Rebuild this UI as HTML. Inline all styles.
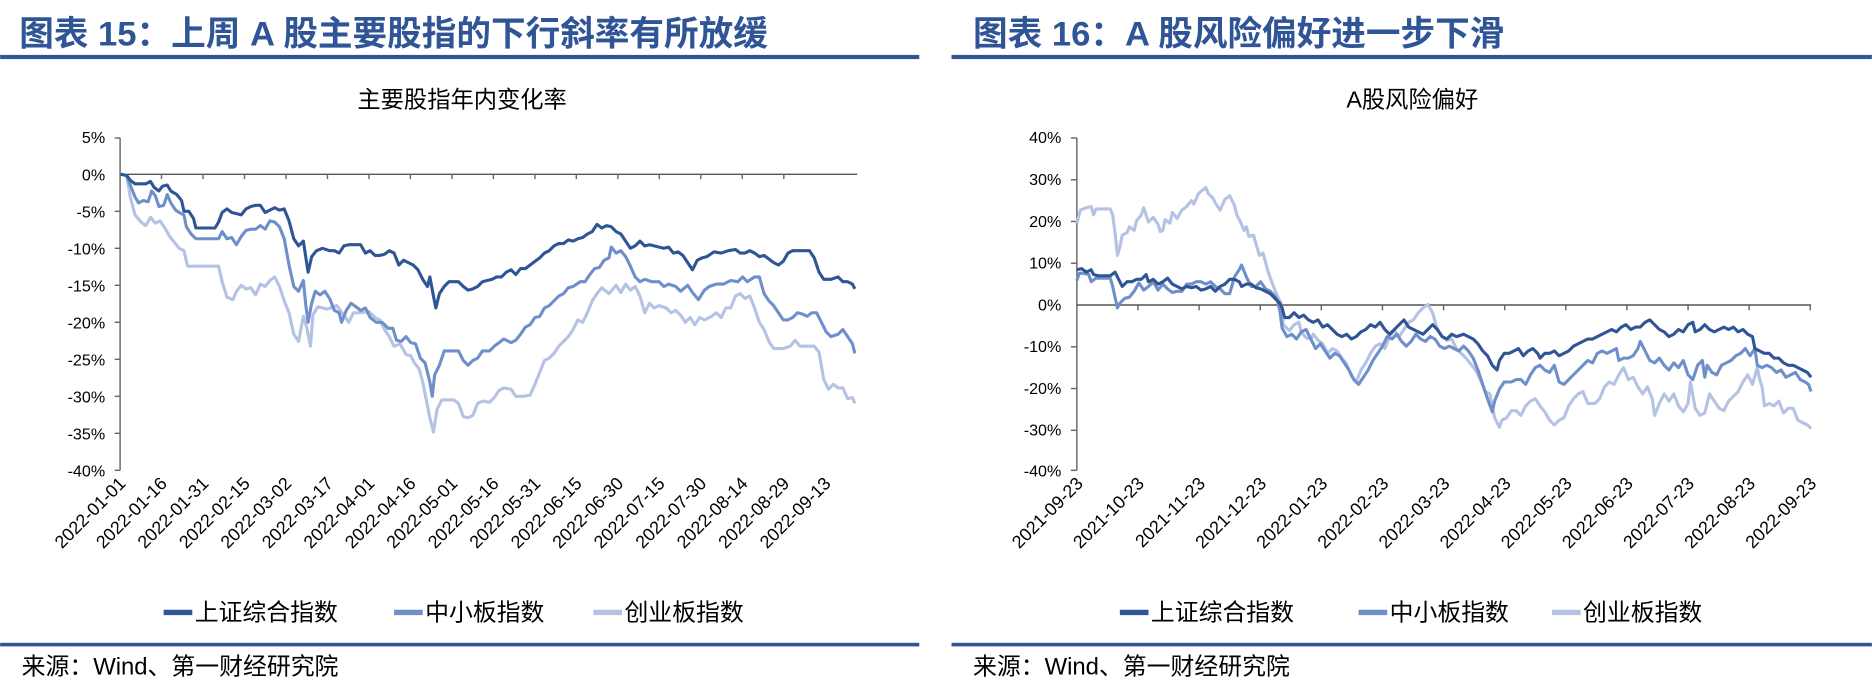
<!DOCTYPE html>
<html><head><meta charset="utf-8"><style>
html,body{margin:0;padding:0;background:#fff;}
svg{display:block;}
text{font-family:"Liberation Sans","Noto Sans CJK SC",sans-serif;}
.cjk{font-family:"Liberation Sans","Noto Sans CJK SC",sans-serif;}
.tk{font-size:15px;fill:#000;}
.yk{font-size:13.5px;fill:#000;}
</style></head><body>
<svg width="1872" height="684" viewBox="0 0 1568 573" xmlns="http://www.w3.org/2000/svg">
<text x="16" y="38" class="cjk" font-size="29" font-weight="bold" fill="#2F5597">图表 15：上周 A 股主要股指的下行斜率有所放缓</text>
<rect x="0" y="46" width="770" height="3.5" fill="#2F5597"/>
<text x="815" y="38" class="cjk" font-size="29" font-weight="bold" fill="#2F5597">图表 16：A 股风险偏好进一步下滑</text>
<rect x="797" y="46" width="771" height="3.5" fill="#2F5597"/>

<text x="387" y="90" text-anchor="middle" font-size="19.5">主要股指年内变化率</text>
<text x="1183" y="90" text-anchor="middle" font-size="19.5">A股风险偏好</text>

<g stroke="#666" stroke-width="1.2">
<line x1="100.5" y1="115.6" x2="100.5" y2="394"/>
<line x1="100.5" y1="146" x2="718" y2="146" stroke="#555"/>
</g>
<g class="yk" text-anchor="end">
<text x="88" y="120">5%</text><text x="88" y="151">0%</text><text x="88" y="182">-5%</text>
<text x="88" y="213">-10%</text><text x="88" y="244">-15%</text><text x="88" y="275">-20%</text>
<text x="88" y="306">-25%</text><text x="88" y="337">-30%</text><text x="88" y="368">-35%</text>
<text x="88" y="399">-40%</text>
</g>
<g stroke="#666" stroke-width="1.2">
<line x1="96" y1="115.6" x2="100.5" y2="115.6"/><line x1="96" y1="177" x2="100.5" y2="177"/>
<line x1="96" y1="208" x2="100.5" y2="208"/><line x1="96" y1="239" x2="100.5" y2="239"/>
<line x1="96" y1="270" x2="100.5" y2="270"/><line x1="96" y1="301" x2="100.5" y2="301"/>
<line x1="96" y1="332" x2="100.5" y2="332"/><line x1="96" y1="363" x2="100.5" y2="363"/>
<line x1="96" y1="394" x2="100.5" y2="394"/>
<line x1="135.2" y1="146" x2="135.2" y2="150"/><line x1="170" y1="146" x2="170" y2="150"/>
<line x1="204.7" y1="146" x2="204.7" y2="150"/><line x1="239.5" y1="146" x2="239.5" y2="150"/>
<line x1="274.2" y1="146" x2="274.2" y2="150"/><line x1="309" y1="146" x2="309" y2="150"/>
<line x1="343.7" y1="146" x2="343.7" y2="150"/><line x1="378.5" y1="146" x2="378.5" y2="150"/>
<line x1="413.2" y1="146" x2="413.2" y2="150"/><line x1="448" y1="146" x2="448" y2="150"/>
<line x1="482.7" y1="146" x2="482.7" y2="150"/><line x1="517.5" y1="146" x2="517.5" y2="150"/>
<line x1="552.2" y1="146" x2="552.2" y2="150"/><line x1="587" y1="146" x2="587" y2="150"/>
<line x1="621.7" y1="146" x2="621.7" y2="150"/><line x1="656.5" y1="146" x2="656.5" y2="150"/>
</g>
<g class="tk" text-anchor="end">
<text transform="translate(106,406) rotate(-45)">2022-01-01</text>
<text transform="translate(140.7,406) rotate(-45)">2022-01-16</text>
<text transform="translate(175.5,406) rotate(-45)">2022-01-31</text>
<text transform="translate(210.2,406) rotate(-45)">2022-02-15</text>
<text transform="translate(245,406) rotate(-45)">2022-03-02</text>
<text transform="translate(279.7,406) rotate(-45)">2022-03-17</text>
<text transform="translate(314.5,406) rotate(-45)">2022-04-01</text>
<text transform="translate(349.2,406) rotate(-45)">2022-04-16</text>
<text transform="translate(384,406) rotate(-45)">2022-05-01</text>
<text transform="translate(418.7,406) rotate(-45)">2022-05-16</text>
<text transform="translate(453.5,406) rotate(-45)">2022-05-31</text>
<text transform="translate(488.2,406) rotate(-45)">2022-06-15</text>
<text transform="translate(523,406) rotate(-45)">2022-06-30</text>
<text transform="translate(557.7,406) rotate(-45)">2022-07-15</text>
<text transform="translate(592.5,406) rotate(-45)">2022-07-30</text>
<text transform="translate(627.2,406) rotate(-45)">2022-08-14</text>
<text transform="translate(662,406) rotate(-45)">2022-08-29</text>
<text transform="translate(696.7,406) rotate(-45)">2022-09-13</text>
</g>

<g fill="none" stroke-width="2.6" stroke-linejoin="round">
<polyline stroke="#B4C2E3" points="101,146 106,147 109,165 113,180 118,186 122,189 126,182 130,187 134,185 138,191 142,198 146,203 150,208 154,210 157,223 165,223 183,223 186,236 190,249 195,251 198,244 202,239 206,242 210,241 214,247 218,238 222,240 226,235 230,232 234,240 238,252 242,262 246,280 250,286 254,265 257,275 260,290 262,264 266,257 274,259 282,256 288,264 292,270 296,262 302,262 309,261 314,266 318,268 322,276 326,282 330,290 335,288 340,297 344,298 347,304 351,309 354,320 357,335 360,350 363,362 366,343 370,335 374,335 380,335 384,338 388,349 392,350 396,348 400,338 404,336 410,337 414,333 418,327 422,325 428,326 432,332 438,332 444,331 448,322 452,312 456,302 460,300 464,296 468,290 472,286 476,282 480,276 484,268 488,270 492,262 496,252 500,246 504,241 510,246 516,239 520,245 524,238 528,243 532,240 536,248 540,262 544,254 548,258 552,256 558,258 562,262 566,260 570,264 574,270 578,266 582,272 586,266 590,268 596,265 600,262 604,266 608,258 612,258 616,248 620,246 624,250 628,248 632,258 636,270 640,276 644,286 648,292 656,292 662,290 666,285 670,290 674,290 678,290 682,290 686,295 690,318 694,326 698,322 702,325 706,325 710,334 714,333 716,338"/>
<polyline stroke="#6F8FCB" points="101,146 106,147 109,155 113,165 116,170 120,168 124,169 127,160 130,164 133,173 137,172 140,163 143,170 147,176 150,178 154,180 156,190 160,196 164,200 170,200 178,200 183,200 186,194 190,200 194,199 198,205 202,198 206,193 210,192 214,192 218,189 222,192 226,185 230,186 234,190 238,200 242,222 246,240 250,244 254,235 256,255 258,270 261,254 264,244 268,247 272,244 276,250 280,260 284,262 286,270 290,260 294,254 298,257 302,260 306,258 310,266 315,270 320,270 325,275 329,275 332,285 336,286 340,282 344,287 348,288 352,300 356,304 360,320 362,332 364,314 368,306 372,294 376,294 384,294 388,302 392,306 396,302 400,300 404,294 410,294 414,290 418,287 422,284 428,287 432,285 436,280 440,274 444,272 448,266 452,265 456,258 460,256 464,252 468,248 472,246 476,241 480,240 486,236 490,236 494,230 498,225 502,224 506,218 510,216 512,207 516,212 520,210 524,215 528,223 532,232 536,236 540,234 546,236 552,236 556,240 560,238 566,240 570,244 576,239 580,245 585,251 590,243 594,240 600,238 606,238 612,235 618,236 622,232 626,236 632,232 636,232 640,246 644,252 648,256 652,262 656,268 660,268 664,266 668,262 672,263 676,265 680,262 684,262 688,270 692,278 696,282 702,280 706,276 710,282 714,288 716,296"/>
<polyline stroke="#2F5597" points="101,146 106,147 109,151 113,154 118,154 122,154 126,152 129,157 133,160 136,156 140,155 143,160 148,163 152,168 154,177 158,177 162,183 164,191 170,191 180,191 183,186 186,178 190,175 194,178 198,179 202,180 206,175 210,173 214,172 218,172 222,178 226,176 230,174 234,176 238,175 242,185 246,200 250,206 254,202 256,215 258,228 261,215 265,210 270,208 276,210 280,210 284,212 288,206 292,205 296,205 302,205 306,212 310,210 314,214 318,214 322,213 326,210 330,212 334,222 338,218 342,220 346,222 350,226 354,234 358,240 360,232 363,248 365,258 368,246 372,240 376,236 384,236 388,240 392,243 396,242 400,240 404,236 408,235 412,234 416,232 420,232 424,228 428,226 432,230 436,225 440,225 444,222 448,219 452,216 456,212 460,210 464,206 468,204 472,204 476,201 480,202 484,200 488,199 492,196 496,194 500,188 504,191 508,189 512,190 516,194 520,196 524,202 528,208 532,206 536,202 540,206 544,205 548,206 552,207 556,208 560,207 564,212 568,211 572,214 576,220 580,226 584,218 588,216 592,215 598,211 604,212 610,210 616,209 620,212 624,212 628,210 632,212 636,215 640,214 644,217 648,220 652,222 656,219 660,212 664,210 672,210 678,210 682,216 686,228 690,234 696,234 702,232 706,236 710,236 714,238 716,242"/>
</g>

<g stroke-width="4.5">
<line x1="137" y1="513" x2="161" y2="513" stroke="#2F5597"/>
<line x1="330" y1="513" x2="354" y2="513" stroke="#6F8FCB"/>
<line x1="497" y1="513" x2="521" y2="513" stroke="#B4C2E3"/>
</g>
<g font-size="20"><text x="163" y="520">上证综合指数</text><text x="356" y="520">中小板指数</text><text x="523" y="520">创业板指数</text></g>

<g stroke="#666" stroke-width="1.2">
<line x1="902" y1="115.6" x2="902" y2="394"/>
<line x1="902" y1="255.5" x2="1517" y2="255.5" stroke="#555"/>
</g>
<g class="yk" text-anchor="end">
<text x="889" y="120">40%</text><text x="889" y="155">30%</text><text x="889" y="190">20%</text>
<text x="889" y="225">10%</text><text x="889" y="260">0%</text><text x="889" y="295">-10%</text>
<text x="889" y="330">-20%</text><text x="889" y="365">-30%</text><text x="889" y="399">-40%</text>
</g>
<g stroke="#666" stroke-width="1.2">
<line x1="897" y1="115.6" x2="902" y2="115.6"/><line x1="897" y1="150.6" x2="902" y2="150.6"/>
<line x1="897" y1="185.5" x2="902" y2="185.5"/><line x1="897" y1="220.5" x2="902" y2="220.5"/>
<line x1="897" y1="290.5" x2="902" y2="290.5"/><line x1="897" y1="325.5" x2="902" y2="325.5"/>
<line x1="897" y1="360.5" x2="902" y2="360.5"/><line x1="897" y1="394" x2="902" y2="394"/>
<line x1="953.2" y1="255.5" x2="953.2" y2="260"/><line x1="1004.4" y1="255.5" x2="1004.4" y2="260"/>
<line x1="1055.6" y1="255.5" x2="1055.6" y2="260"/><line x1="1106.8" y1="255.5" x2="1106.8" y2="260"/>
<line x1="1158" y1="255.5" x2="1158" y2="260"/><line x1="1209.2" y1="255.5" x2="1209.2" y2="260"/>
<line x1="1260.4" y1="255.5" x2="1260.4" y2="260"/><line x1="1311.6" y1="255.5" x2="1311.6" y2="260"/>
<line x1="1362.8" y1="255.5" x2="1362.8" y2="260"/><line x1="1414" y1="255.5" x2="1414" y2="260"/>
<line x1="1465.2" y1="255.5" x2="1465.2" y2="260"/><line x1="1516.4" y1="255.5" x2="1516.4" y2="260"/>
</g>
<g class="tk" text-anchor="end">
<text transform="translate(908,406) rotate(-45)">2021-09-23</text>
<text transform="translate(959.2,406) rotate(-45)">2021-10-23</text>
<text transform="translate(1010.4,406) rotate(-45)">2021-11-23</text>
<text transform="translate(1061.6,406) rotate(-45)">2021-12-23</text>
<text transform="translate(1112.8,406) rotate(-45)">2022-01-23</text>
<text transform="translate(1164,406) rotate(-45)">2022-02-23</text>
<text transform="translate(1215.2,406) rotate(-45)">2022-03-23</text>
<text transform="translate(1266.4,406) rotate(-45)">2022-04-23</text>
<text transform="translate(1317.6,406) rotate(-45)">2022-05-23</text>
<text transform="translate(1368.8,406) rotate(-45)">2022-06-23</text>
<text transform="translate(1420,406) rotate(-45)">2022-07-23</text>
<text transform="translate(1471.2,406) rotate(-45)">2022-08-23</text>
<text transform="translate(1522.4,406) rotate(-45)">2022-09-23</text>
</g>

<g fill="none" stroke-width="2.6" stroke-linejoin="round">
<polyline stroke="#B4C2E3" points="902,187 905,176 910,174 914,173 916,180 918,175 922,175 930,175 932,180 934,195 936,214 938,207 940,197 944,195 946,190 950,193 952,185 956,180 958,174 962,186 966,182 970,188 972,194 974,193 976,184 980,187 982,178 986,183 990,176 994,173 998,168 1000,171 1004,162 1010,157 1012,162 1016,166 1018,170 1022,176 1026,167 1030,164 1034,172 1036,180 1040,188 1042,193 1044,190 1046,198 1050,197 1052,204 1055,214 1058,212 1062,227 1066,238 1070,248 1073,254 1075,272 1080,277 1084,272 1088,270 1090,278 1094,283 1098,284 1100,280 1104,285 1108,288 1112,296 1116,292 1120,294 1124,300 1128,305 1132,315 1136,320 1140,310 1144,304 1148,296 1152,290 1156,288 1160,292 1164,282 1168,277 1172,282 1176,276 1180,270 1184,268 1188,262 1192,258 1196,255 1200,262 1204,276 1208,282 1212,285 1216,284 1220,292 1224,296 1228,300 1232,305 1236,310 1240,318 1244,328 1248,330 1252,350 1256,358 1258,352 1262,350 1266,344 1270,344 1274,348 1278,340 1282,336 1286,334 1290,340 1294,345 1298,352 1302,356 1306,352 1310,350 1314,340 1318,334 1322,330 1326,328 1330,338 1336,338 1340,334 1344,324 1348,320 1352,322 1356,314 1360,308 1364,318 1368,316 1372,324 1376,330 1380,324 1384,334 1386,348 1390,338 1394,330 1398,336 1402,330 1406,340 1410,345 1414,338 1416,320 1420,342 1424,348 1428,346 1432,330 1436,336 1440,342 1444,344 1448,336 1452,332 1456,328 1460,320 1464,314 1468,322 1472,308 1474,318 1476,324 1478,340 1482,338 1486,340 1490,336 1494,346 1498,342 1502,342 1506,352 1510,354 1514,356 1517,359"/>
<polyline stroke="#6F8FCB" points="902,235 904,229 908,229 912,230 914,236 918,233 922,233 930,233 932,240 934,249 936,258 938,254 942,250 946,249 950,244 954,237 958,243 962,240 966,236 970,243 974,238 978,242 982,245 986,244 990,244 994,238 998,238 1002,236 1006,236 1010,238 1014,236 1018,240 1022,242 1026,246 1030,246 1034,232 1038,226 1040,222 1044,232 1048,240 1052,240 1056,236 1060,242 1064,244 1068,248 1070,252 1072,260 1074,275 1078,282 1082,280 1086,284 1090,278 1094,276 1098,284 1102,292 1106,288 1110,294 1114,300 1118,296 1122,298 1126,304 1130,310 1134,318 1138,322 1142,316 1146,310 1150,302 1154,296 1158,290 1162,282 1166,284 1170,280 1174,286 1178,290 1182,286 1186,280 1190,284 1194,286 1198,282 1202,284 1206,290 1210,292 1214,290 1218,292 1222,294 1226,290 1230,294 1234,300 1238,310 1242,322 1246,334 1250,345 1252,336 1256,326 1260,320 1266,320 1270,318 1274,318 1278,322 1282,314 1286,308 1290,306 1294,310 1298,312 1302,306 1306,320 1310,322 1314,318 1318,314 1322,310 1326,306 1330,302 1334,304 1338,296 1342,294 1346,296 1350,294 1354,292 1356,302 1360,300 1364,300 1368,298 1372,292 1374,286 1378,294 1382,302 1386,304 1390,300 1394,306 1398,310 1402,304 1406,308 1410,302 1414,314 1418,318 1422,306 1426,302 1428,316 1430,306 1434,312 1438,314 1442,306 1446,304 1450,302 1454,298 1458,296 1462,292 1466,298 1470,292 1472,306 1476,308 1480,306 1484,308 1488,312 1492,310 1496,316 1500,314 1504,312 1508,318 1512,320 1515,322 1517,328"/>
<polyline stroke="#2F5597" points="902,226 906,225 910,228 914,226 916,230 920,231 930,231 934,228 936,232 940,240 944,236 948,236 952,234 956,234 960,230 962,236 966,234 970,238 974,236 978,233 982,238 986,240 990,242 994,240 998,241 1002,240 1006,243 1010,242 1014,240 1018,244 1022,240 1026,238 1030,234 1034,234 1038,236 1040,240 1044,238 1048,238 1052,241 1056,242 1060,244 1064,246 1068,250 1072,254 1074,258 1076,266 1080,266 1084,262 1088,266 1092,264 1096,268 1100,270 1104,268 1108,274 1112,272 1116,276 1120,280 1124,282 1128,280 1132,284 1136,282 1140,278 1144,276 1148,272 1152,274 1156,270 1160,276 1164,280 1168,276 1172,272 1176,268 1180,274 1184,276 1188,278 1192,280 1196,276 1200,272 1204,276 1208,282 1212,284 1216,280 1220,282 1226,280 1230,282 1234,284 1238,288 1242,294 1246,298 1250,306 1254,310 1256,302 1260,296 1264,296 1268,294 1272,292 1276,298 1280,294 1284,292 1288,296 1290,300 1294,296 1298,296 1302,294 1306,298 1310,296 1314,294 1318,290 1322,288 1326,286 1330,284 1334,284 1338,282 1342,280 1346,278 1350,276 1354,278 1358,274 1362,272 1366,276 1370,274 1374,274 1378,270 1382,268 1386,272 1390,276 1394,278 1398,282 1402,280 1406,276 1410,278 1414,272 1418,270 1420,278 1424,276 1428,272 1432,276 1436,278 1440,276 1444,274 1448,276 1452,274 1456,278 1460,276 1464,280 1468,282 1470,292 1474,294 1478,296 1482,296 1486,300 1490,300 1494,304 1498,306 1502,306 1506,308 1510,310 1514,312 1517,316"/>
</g>

<g stroke-width="4.5">
<line x1="938" y1="513" x2="962" y2="513" stroke="#2F5597"/>
<line x1="1138" y1="513" x2="1162" y2="513" stroke="#6F8FCB"/>
<line x1="1300" y1="513" x2="1324" y2="513" stroke="#B4C2E3"/>
</g>
<g font-size="20"><text x="964" y="520">上证综合指数</text><text x="1164" y="520">中小板指数</text><text x="1326" y="520">创业板指数</text></g>

<rect x="0" y="538.5" width="770" height="3" fill="#2F5597"/>
<rect x="797" y="538.5" width="771" height="3" fill="#2F5597"/>
<text x="18" y="565" font-size="20" font-family="'Liberation Mono','Noto Sans CJK SC',monospace">来源：Wind、第一财经研究院</text>
<text x="815" y="565" font-size="20" font-family="'Liberation Mono','Noto Sans CJK SC',monospace">来源：Wind、第一财经研究院</text>
</svg>
</body></html>
